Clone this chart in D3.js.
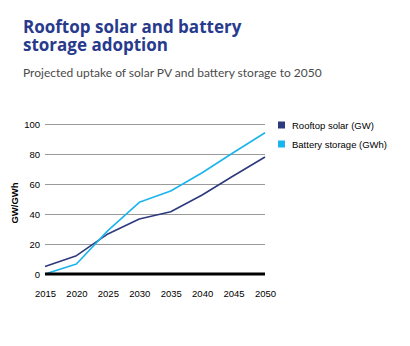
<!DOCTYPE html>
<html>
<head>
<meta charset="utf-8">
<script src="https://cdn.jsdelivr.net/npm/d3@7"></script>
<style>
  body { margin: 0; background: #fff; }
  svg { display: block; }
</style>
</head>
<body>
<div id="chart"></div>
<script>
// data
var years = [2015, 2020, 2025, 2030, 2035, 2040, 2045, 2050];
var rooftopSolar = [5, 12.2, 26.7, 36.7, 41.5, 52.7, 65.5, 78];
var batteryStorage = [0, 6.7, 28.9, 47.8, 55.3, 67.5, 81, 94.2];
var yTicks = [0, 20, 40, 60, 80, 100];
var seriesNames = ["Rooftop solar (GW)", "Battery storage (GWh)"];
var seriesColors = ["#2e3a7e", "#1cb4ec"];
var titleLines = ["Rooftop solar and battery", "storage adoption"];

var W = 410, H = 346;
var margin = {top: 124, right: 145, bottom: 72, left: 45};
var width = W - margin.left - margin.right;
var height = H - margin.top - margin.bottom;

var svg = d3.select("#chart").append("svg")
    .attr("width", W)
    .attr("height", H);

// titles, one text per line
titleLines.forEach(function(t, i) {
    svg.append("text")
        .attr("x", 23)
        .attr("y", 33 + i * 17.5)
        .attr("fill", "#283a8c")
        .style("font-family", "'Open Sans', sans-serif")
        .style("font-weight", "bold")
        .style("font-size", "17px")
        .text(t);
});

svg.append("text")
    .attr("x", 23)
    .attr("y", 77)
    .attr("fill", "#4a4a4a")
    .style("font-family", "Lato, 'Open Sans', sans-serif")
    .style("font-size", "12px")
    .text("Projected uptake of solar PV and battery storage to 2050");

var g = svg.append("g")
    .attr("transform", "translate(" + margin.left + "," + margin.top + ")");

var x = d3.scaleLinear().domain([2015, 2050]).range([0, width]);
var y = d3.scaleLinear().domain([0, 100]).range([height, 0]);

// gridlines
g.append("g")
    .attr("class", "grid")
    .call(d3.axisLeft(y).tickValues(yTicks).tickSize(-width).tickFormat(""))
    .call(function(s) {
        s.select(".domain").remove();
        s.selectAll("line").attr("stroke", "#9a9a9a").attr("stroke-width", 1);
    });

// y tick labels
g.append("g")
    .call(d3.axisLeft(y).tickValues(yTicks).tickSize(0).tickPadding(5))
    .call(function(s) {
        s.select(".domain").remove();
        s.selectAll("text")
            .attr("fill", "#000")
            .style("font-family", "'Liberation Sans', Arial, sans-serif")
            .style("font-size", "9.5px");
    });

// x tick labels
g.append("g")
    .attr("transform", "translate(0," + height + ")")
    .call(d3.axisBottom(x).tickValues(years).tickFormat(d3.format("d")).tickSize(0).tickPadding(16))
    .call(function(s) {
        s.select(".domain").remove();
        s.selectAll("text")
            .attr("fill", "#000")
            .style("font-family", "'Liberation Sans', Arial, sans-serif")
            .style("font-size", "9.5px");
    });

// y axis title
svg.append("text")
    .attr("transform", "translate(18," + (margin.top + height / 2 + 4) + ") rotate(-90)")
    .attr("text-anchor", "middle")
    .attr("fill", "#000")
    .style("font-family", "'Liberation Sans', Arial, sans-serif")
    .style("font-weight", "bold")
    .style("font-size", "9.5px")
    .text("GW/GWh");

// lines
var allSeries = [rooftopSolar, batteryStorage];
var line = d3.line()
    .x(function(d, i) { return x(years[i]); })
    .y(function(d) { return y(d); });

allSeries.forEach(function(vals, k) {
    g.append("path")
        .datum(vals)
        .attr("fill", "none")
        .attr("stroke", seriesColors[k])
        .attr("stroke-width", 1.6)
        .attr("stroke-linejoin", "round")
        .attr("d", line);
});

// black baseline
g.append("line")
    .attr("x1", 0).attr("x2", width)
    .attr("y1", y(0)).attr("y2", y(0))
    .attr("stroke", "#000")
    .attr("stroke-width", 3);

// legend
var legend = svg.append("g").attr("transform", "translate(278,125)");
seriesNames.forEach(function(name, k) {
    var row = legend.append("g").attr("transform", "translate(0," + (k * 19) + ")");
    row.append("rect")
        .attr("x", 0).attr("y", -3.5)
        .attr("width", 7).attr("height", 7)
        .attr("fill", seriesColors[k]);
    row.append("text")
        .attr("x", 14)
        .attr("y", 3.5)
        .attr("fill", "#000")
        .style("font-family", "'Liberation Sans', Arial, sans-serif")
        .style("font-size", "9.5px")
        .text(name);
});
</script>
</body>
</html>
